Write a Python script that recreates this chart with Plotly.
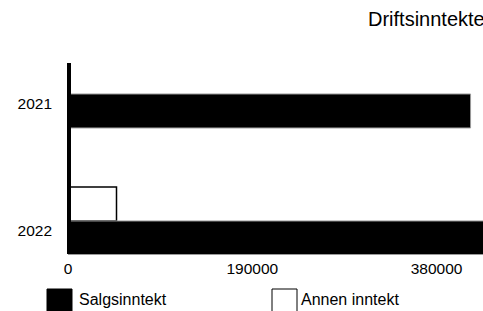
import plotly.graph_objects as go

# ---- data ----
years = ["2021", "2022"]
salgsinntekt = [415000, 445000]
annen_inntekt = [0, 50000]
series_names = ["Salgsinntekt", "Annen inntekt"]
x_ticks = [0, 190000, 380000]
title_text = "Driftsinntekter"

W, H = 483, 311
ML, MR, MT, MB = 68, 0, 63, 311 - 254
PW, PH = W - ML - MR, H - MT - MB
px_per_unit = 184.3 / 190000
xmax = PW / px_per_unit

FONT = "Liberation Sans, Arial, sans-serif"

fig = go.Figure()
fig.add_trace(go.Bar(
    y=years, x=annen_inntekt, orientation="h", name=series_names[1],
    marker=dict(color="white", line=dict(color="black", width=1.5)),
    showlegend=False,
))
fig.add_trace(go.Bar(
    y=years, x=salgsinntekt, orientation="h", name=series_names[0],
    marker=dict(color="black", line=dict(color="#9a9a9a", width=1)),
    showlegend=False,
))

def px2paper_x(px):
    return (px - ML) / PW

def px2paper_y(py):
    return (H - MB - py) / PH

shapes = [
    # thick vertical axis line drawn over the bars
    dict(type="line", xref="paper", yref="paper", layer="above",
         x0=px2paper_x(69), x1=px2paper_x(69), y0=0, y1=1,
         line=dict(color="black", width=4)),
    # legend keys
    dict(type="rect", xref="paper", yref="paper",
         x0=px2paper_x(47), x1=px2paper_x(72), y0=px2paper_y(330), y1=px2paper_y(289),
         fillcolor="black", line=dict(color="black", width=1)),
    dict(type="rect", xref="paper", yref="paper",
         x0=px2paper_x(272), x1=px2paper_x(297), y0=px2paper_y(330), y1=px2paper_y(289),
         fillcolor="white", line=dict(color="black", width=1)),
]
annotations = [
    dict(text=series_names[0], xref="paper", yref="paper", x=px2paper_x(77), y=px2paper_y(299),
         xanchor="left", yanchor="middle", showarrow=False, font=dict(family=FONT, size=16, color="black")),
    dict(text=series_names[1], xref="paper", yref="paper", x=px2paper_x(299), y=px2paper_y(299),
         xanchor="left", yanchor="middle", showarrow=False, font=dict(family=FONT, size=16, color="black")),
]

fig.update_layout(
    width=W, height=H,
    margin=dict(l=ML, r=MR, t=MT, b=MB, pad=0),
    paper_bgcolor="white", plot_bgcolor="white",
    barmode="group", bargap=0.465, bargroupgap=0,
    title=dict(text=title_text, x=368 / W, xanchor="left", y=1 - 19 / H, yanchor="middle",
               font=dict(family=FONT, size=20, color="black")),
    font=dict(family=FONT, size=15.5, color="black"),
    shapes=shapes, annotations=annotations,
    showlegend=False,
)
fig.update_xaxes(
    range=[0, xmax], tickmode="array", tickvals=x_ticks, ticktext=[str(v) for v in x_ticks],
    showgrid=False, zeroline=False, showline=True, linecolor="#9a9a9a", linewidth=1,
    ticks="", tickfont=dict(family=FONT, size=15.5, color="black"),
)
fig.update_yaxes(
    type="category", categoryorder="array", categoryarray=years,
    range=[1.26, -0.244], showgrid=False, zeroline=False,
    showline=False, ticks="",
    ticklabelshift=-10, ticklabelstandoff=15,
    tickfont=dict(family=FONT, size=15.5, color="black"),
)

fig.write_html(
    "out.html",
    config={"displayModeBar": False},
    post_script="document.body.style.margin='0';document.body.style.overflow='hidden';",
)
